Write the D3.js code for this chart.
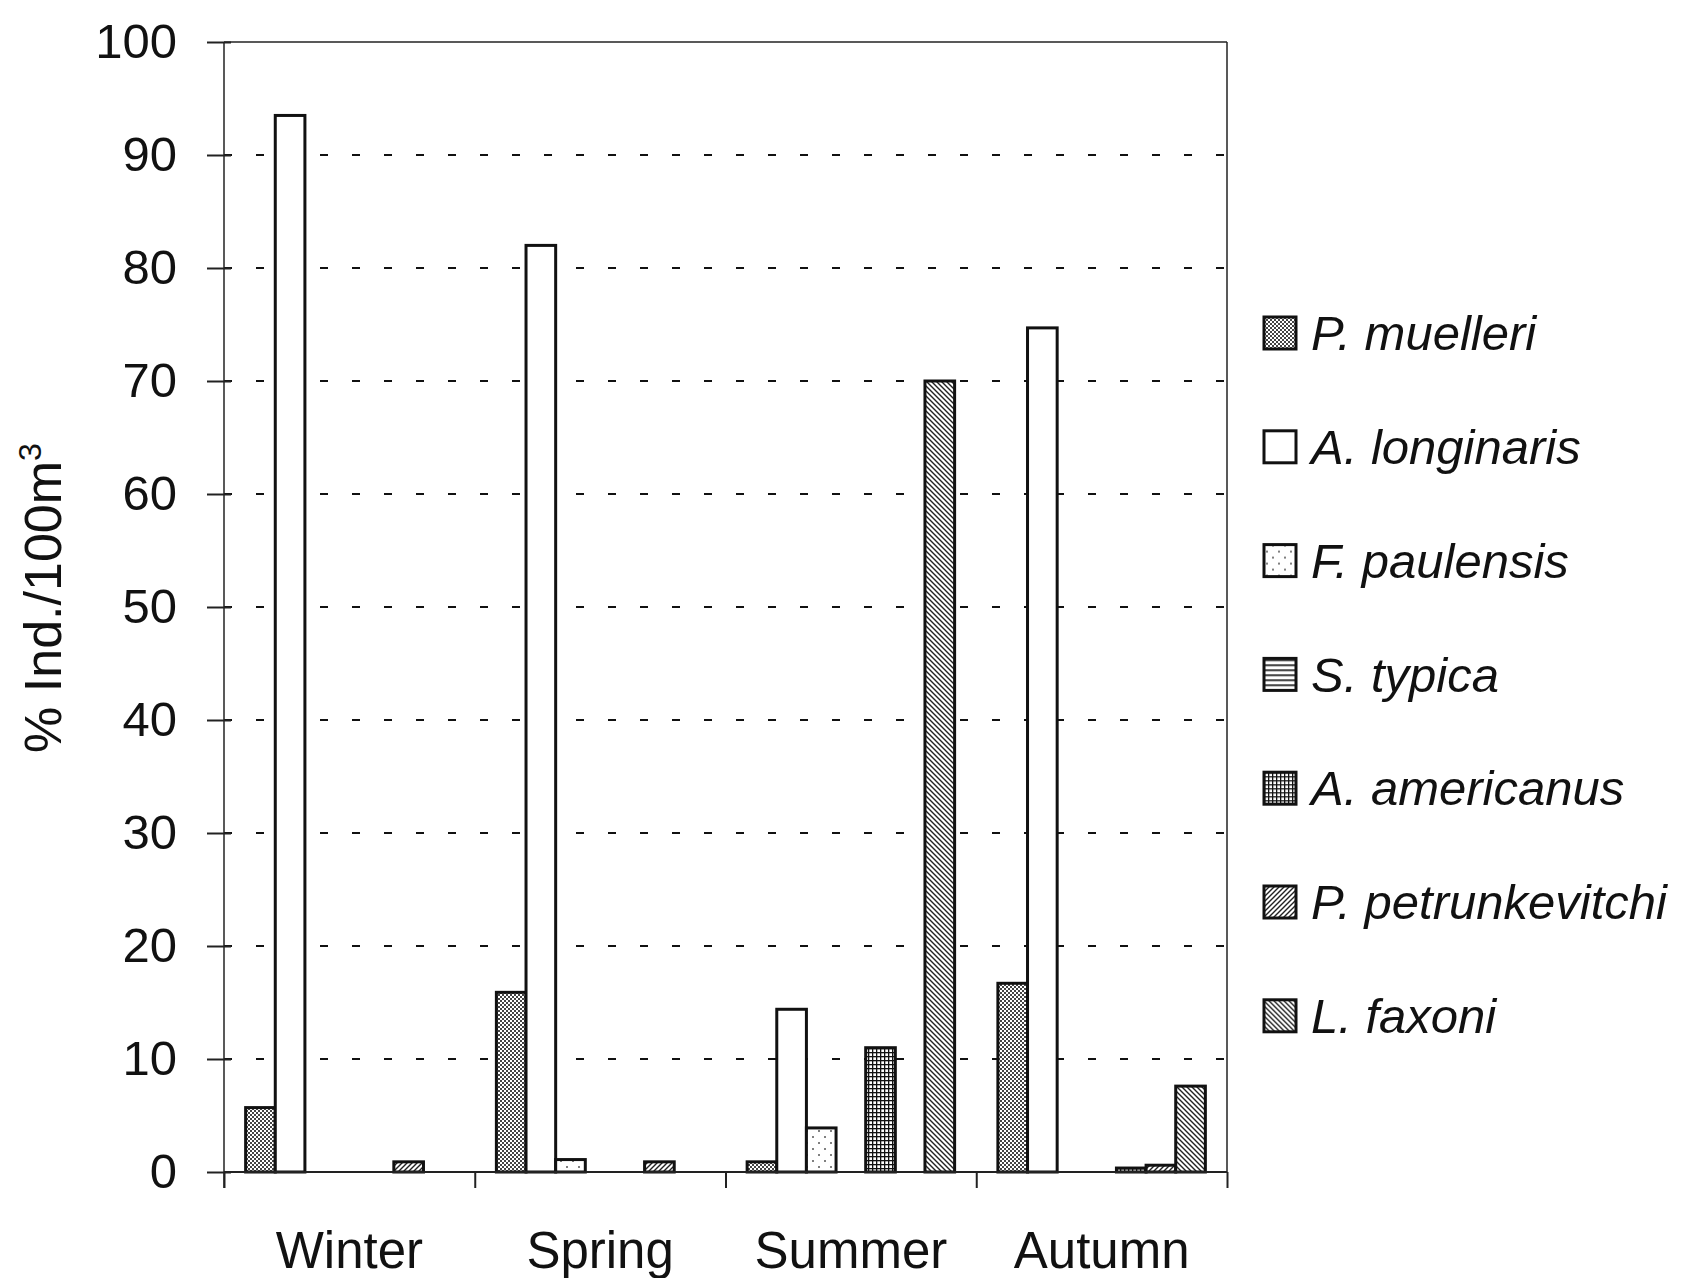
<!DOCTYPE html>
<html>
<head>
<meta charset="utf-8">
<script src="https://cdn.jsdelivr.net/npm/d3@7"></script>
<style>
  body { margin: 0; background: #fff; }
  text { font-family: "Liberation Sans", Arial, sans-serif; fill: #111; }
</style>
</head>
<body>
<svg id="chart" width="1682" height="1278"></svg>
<script>
// seasons on x, species as grouped bars
var seasons = ["Winter", "Spring", "Summer", "Autumn"];
var species = ["P. muelleri", "A. longinaris", "F. paulensis", "S. typica", "A. americanus", "P. petrunkevitchi", "L. faxoni"];
var patternIds = ["pm", "al", "fp", "st", "aa", "pp", "lf"];

// % Ind./100m3, one array per species, in season order
var muelleri = [5.7, 15.9, 0.9, 16.7];
var longinaris = [93.5, 82.0, 14.4, 74.7];
var paulensis = [0, 1.1, 3.9, 0];
var typica = [0, 0, 0, 0];
var americanus = [0, 0, 11.0, 0.35];
var petrunkevitchi = [0.9, 0.9, 0, 0.6];
var faxoni = [0, 0, 70.0, 7.6];
var seriesValues = [muelleri, longinaris, paulensis, typica, americanus, petrunkevitchi, faxoni];

var yTicks = [0, 10, 20, 30, 40, 50, 60, 70, 80, 90, 100];

// plot box (note: "top" is taken by window.top)
var plotL = 224, plotR = 1227, plotT = 42, plotB = 1172;

var svg = d3.select("#chart");

// patterns roughly like the old b/w excel fills
var defs = svg.append("defs");
function pat(id, size) {
  var p = defs.append("pattern").attr("id", id)
    .attr("patternUnits", "userSpaceOnUse")
    .attr("width", size).attr("height", size);
  p.append("rect").attr("width", size).attr("height", size).attr("fill", "#fff");
  return p;
}
var p;
p = pat("pm", 4);
p.append("rect").attr("x", 0).attr("y", 0).attr("width", 2).attr("height", 2).attr("fill", "#444");
p.append("rect").attr("x", 2).attr("y", 2).attr("width", 2).attr("height", 2).attr("fill", "#444");
p = pat("al", 4);
p = pat("fp", 12);
p.append("circle").attr("cx", 3).attr("cy", 3).attr("r", 1).attr("fill", "#555");
p.append("circle").attr("cx", 9).attr("cy", 9).attr("r", 1).attr("fill", "#555");
p = pat("st", 5);
p.append("rect").attr("x", 0).attr("y", 0).attr("width", 5).attr("height", 1.6).attr("fill", "#111");
p = pat("aa", 4);
p.append("rect").attr("x", 0).attr("y", 0).attr("width", 4).attr("height", 1.3).attr("fill", "#111");
p.append("rect").attr("x", 0).attr("y", 0).attr("width", 1.3).attr("height", 4).attr("fill", "#111");
p = pat("pp", 5);
p.append("path").attr("d", "M-1,6 L6,-1 M-1,1 L1,-1 M4,6 L6,4").attr("stroke", "#222").attr("stroke-width", 1.4);
p = pat("lf", 5);
p.append("path").attr("d", "M-1,-1 L6,6 M4,-1 L6,1 M-1,4 L1,6").attr("stroke", "#222").attr("stroke-width", 1.4);

var y = d3.scaleLinear().domain([0, 100]).range([plotB, plotT]);

var x0 = d3.scaleBand().domain(seasons).range([plotL, plotR]).padding(0);
var x1 = d3.scaleBand().domain(d3.range(species.length))
  .range([0, x0.bandwidth()]).paddingInner(0).paddingOuter(0.73);

// dashed gridlines
svg.append("g").selectAll("line")
  .data(yTicks.filter(function(t) { return t > 0 && t < 100; }))
  .enter().append("line")
  .attr("x1", plotL).attr("x2", plotR)
  .attr("y1", function(d) { return y(d); }).attr("y2", function(d) { return y(d); })
  .attr("stroke", "#111").attr("stroke-width", 2)
  .attr("stroke-dasharray", "8,24");

// frame top + right
svg.append("line").attr("x1", plotL).attr("x2", plotR).attr("y1", y(100)).attr("y2", y(100))
  .attr("stroke", "#222").attr("stroke-width", 1.5);
svg.append("line").attr("x1", plotR).attr("x2", plotR).attr("y1", y(100)).attr("y2", plotB)
  .attr("stroke", "#222").attr("stroke-width", 1.5);

// bars
var rows = [];
seasons.forEach(function(s, si) {
  species.forEach(function(sp, k) {
    rows.push({season: s, k: k, value: seriesValues[k][si]});
  });
});

svg.append("g").selectAll("rect")
  .data(rows.filter(function(d) { return d.value > 0; }))
  .enter().append("rect")
  .attr("x", function(d) { return x0(d.season) + x1(d.k); })
  .attr("y", function(d) { return y(d.value); })
  .attr("width", x1.bandwidth())
  .attr("height", function(d) { return y(0) - y(d.value); })
  .attr("fill", function(d) { return "url(#" + patternIds[d.k] + ")"; })
  .attr("stroke", "#111").attr("stroke-width", 3);

// y axis
var yAxis = svg.append("g")
  .attr("transform", "translate(" + plotL + ",0)")
  .call(d3.axisLeft(y).tickValues(yTicks).tickSize(17).tickPadding(30));
yAxis.select(".domain").attr("stroke", "#222").attr("stroke-width", 1.5)
  .attr("d", "M0," + y(100) + "V" + (plotB + 16));
yAxis.selectAll(".tick line").attr("x1", 7).attr("stroke", "#222").attr("stroke-width", 2);
yAxis.selectAll(".tick text").attr("font-size", 49).attr("font-family", null);

// x axis: ticks between seasons, labels centred
var xb = d3.scaleLinear().domain([0, seasons.length]).range([plotL, plotR]);
var xTickAxis = svg.append("g")
  .attr("transform", "translate(0," + plotB + ")")
  .call(d3.axisBottom(xb).tickValues(d3.range(seasons.length + 1)).tickFormat("").tickSize(16));
xTickAxis.select(".domain").attr("stroke", "#222").attr("stroke-width", 2).attr("d", "M" + plotL + ",0H" + plotR);
xTickAxis.selectAll(".tick line").attr("stroke", "#222").attr("stroke-width", 2);

var xLab = svg.append("g")
  .attr("transform", "translate(0," + plotB + ")")
  .call(d3.axisBottom(x0).tickSize(0));
xLab.select(".domain").remove();
xLab.selectAll(".tick text").attr("font-size", 51).attr("font-family", null)
  .attr("y", 96).attr("dy", 0);

// y title
var yt = svg.append("text")
  .attr("transform", "translate(61,598) rotate(-90)")
  .attr("text-anchor", "middle")
  .attr("font-size", 52);
yt.append("tspan").text("% Ind./100m");
yt.append("tspan").attr("font-size", 32).attr("dy", -20).text("3");

// legend
var legend = svg.append("g").selectAll("g")
  .data(species)
  .enter().append("g")
  .attr("transform", function(d, i) { return "translate(1264," + (333 + i * 113.8) + ")"; });
legend.append("rect")
  .attr("x", 0).attr("y", -16).attr("width", 32).attr("height", 32)
  .attr("fill", function(d, i) { return "url(#" + patternIds[i] + ")"; })
  .attr("stroke", "#111").attr("stroke-width", 3);
legend.append("text")
  .attr("x", 47).attr("dy", "0.35em")
  .attr("font-size", 49).attr("font-style", "italic")
  .text(function(d) { return d; });
</script>
</body>
</html>
